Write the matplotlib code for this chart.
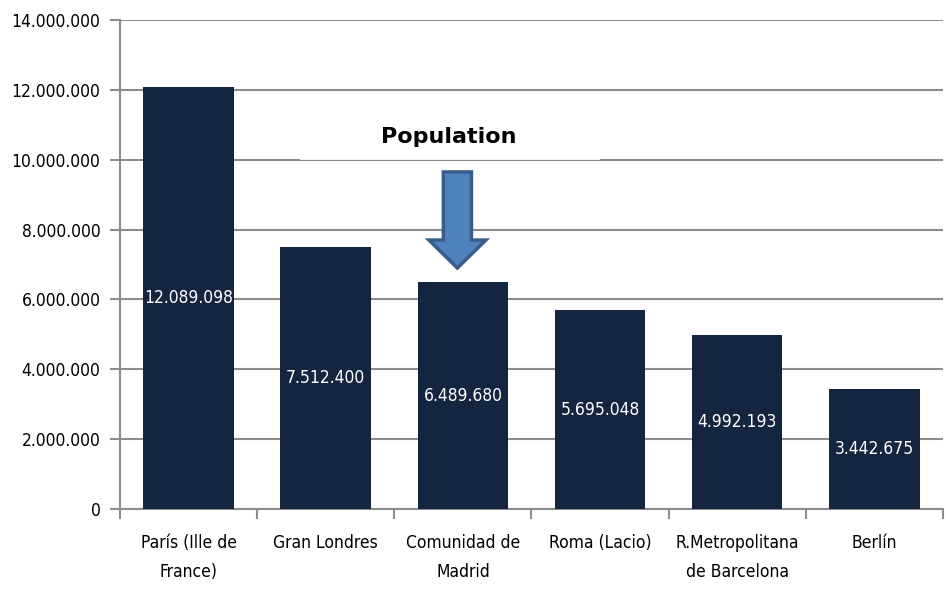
import matplotlib.pyplot as plt
from matplotlib.patches import FancyArrow, Rectangle
from matplotlib.ticker import FuncFormatter

regions = ['París (Ille de\nFrance)', 'Gran Londres', 'Comunidad de\nMadrid',
           'Roma (Lacio)', 'R.Metropolitana\nde Barcelona', 'Berlín']
population = [12089098, 7512400, 6489680, 5695048, 4992193, 3442675]
value_labels = ['12.089.098', '7.512.400', '6.489.680', '5.695.048', '4.992.193', '3.442.675']
yticks = [0, 2000000, 4000000, 6000000, 8000000, 10000000, 12000000, 14000000]

plt.rcParams['font.family'] = ['DejaVu Sans']
plt.rcParams['font.stretch'] = 'condensed'

fig = plt.figure(figsize=(9.46, 5.95), dpi=100)
ax = fig.add_axes([0.1268, 0.1445, 0.87, 0.8219])

bar_color = '#13253f'
grid_color = '#8c8c8c'

x = list(range(len(regions)))
bars = ax.bar(x, population, width=0.66, color=bar_color, zorder=3)

for xi, val, lab in zip(x, population, value_labels):
    ax.text(xi, val / 2, lab, ha='center', va='center', color='white',
            fontsize=12.5, zorder=4)

ax.set_xlim(-0.5, len(regions) - 0.5)
ax.set_ylim(0, 14000000)
ax.set_yticks(yticks)
ax.yaxis.set_major_formatter(FuncFormatter(lambda v, p: f'{int(v):,}'.replace(',', '.')))
ax.yaxis.grid(True, color=grid_color, linewidth=1.5, zorder=0)

# category labels between boundary ticks
ax.set_xticks([i - 0.5 for i in range(len(regions) + 1)])
ax.set_xticklabels([])
ax.set_xticks(x, minor=True)
ax.set_xticklabels(regions, minor=True, fontsize=12.5, linespacing=1.75)
ax.tick_params(axis='x', which='minor', length=0, pad=18)
ax.tick_params(axis='x', which='major', length=7, color=grid_color, width=1.5)
ax.tick_params(axis='y', length=7, color=grid_color, width=1.5, labelsize=12.5, pad=7)

for s in ['top', 'right']:
    ax.spines[s].set_visible(False)
for s in ['left', 'bottom']:
    ax.spines[s].set_color(grid_color)
    ax.spines[s].set_linewidth(1.5)

# title box covering the gridline
ax.add_patch(Rectangle((0.81, 9980000), 2.19, 1500000, facecolor='white',
                       edgecolor='none', alpha=0.88, zorder=2))
ax.text(1.90, 10640000, 'Population', ha='center', va='center', fontsize=16,
        fontweight='bold', fontstretch='normal', zorder=4)

arrow = FancyArrow(1.96, 9650000, 0, -2750000, width=0.205, head_width=0.415,
                   head_length=800000, length_includes_head=True,
                   facecolor='#4f81bd', edgecolor='#385d8a', linewidth=2.5, zorder=5)
ax.add_patch(arrow)

fig.savefig('out.png', dpi=100)
